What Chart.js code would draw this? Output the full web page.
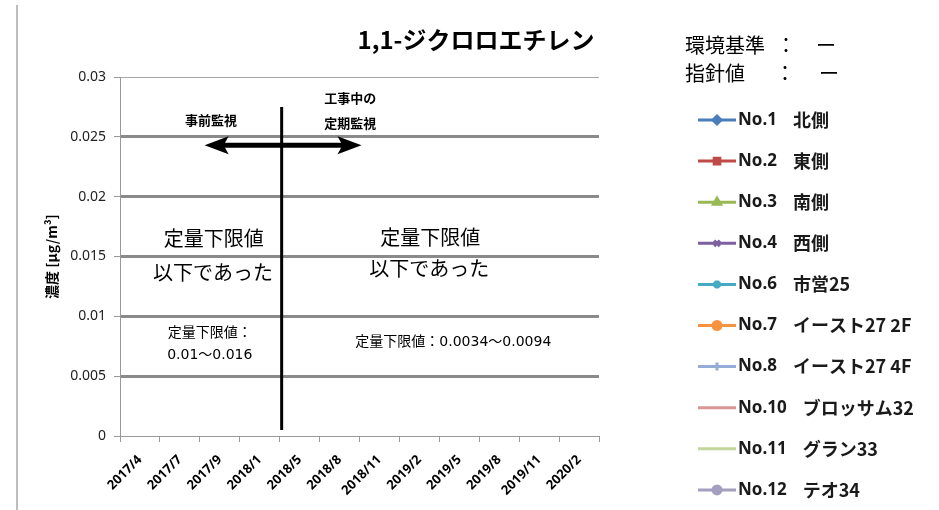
<!DOCTYPE html>
<html>
<head>
<meta charset="utf-8">
<script src="https://cdn.jsdelivr.net/npm/chart.js@4"></script>
<style>
  html, body { margin: 0; padding: 0; background: #fff; }
  #wrap { width: 939px; height: 510px; }
</style>
</head>
<body>
<div id="wrap"><canvas id="chart" width="939" height="510"></canvas></div>
<script>
// sampling dates (x categories)
const dates = ['2017/4', '2017/7', '2017/9', '2018/1', '2018/5', '2018/8', '2018/11', '2019/2', '2019/5', '2019/8', '2019/11', '2020/2'];

// monitoring stations
const stationIds = ['No.1', 'No.2', 'No.3', 'No.4', 'No.6', 'No.7', 'No.8', 'No.10', 'No.11', 'No.12'];
const stationNames = ['北側', '東側', '南側', '西側', '市営25', 'イースト27 2F', 'イースト27 4F', 'ブロッサム32', 'グラン33', 'テオ34'];
const stationColors = ['#4a7ebb', '#be4b48', '#98b954', '#7d60a0', '#46aac5', '#f69240', '#95abd8', '#d99694', '#c3d69b', '#a49fbf'];
const stationMarkers = ['rectRot', 'rect', 'triangle', 'crossRot', 'star', 'circle', 'cross', false, false, 'circle'];

// every result was below the quantification limit, so no values are plotted
const belowLimit = [null, null, null, null, null, null, null, null, null, null, null, null];

const yMin = 0;
const yMax = 0.03;
const yStep = 0.005;

const JP = '"Noto Sans CJK JP"';

const decorations = {
    id: 'decorations',
    afterDraw(chart) {
        const ctx = chart.ctx;
        const x = chart.scales.x;
        const y = chart.scales.y;
        const px = i => x.getPixelForValue(i);
        const py = v => y.getPixelForValue(v);

        ctx.save();

        // outer frame line on the left
        ctx.strokeStyle = '#bdbdbd';
        ctx.lineWidth = 2;
        ctx.beginPath();
        ctx.moveTo(17, 5);
        ctx.lineTo(17, 510);
        ctx.stroke();

        // title
        ctx.fillStyle = '#000';
        ctx.textAlign = 'center';
        ctx.textBaseline = 'middle';
        ctx.font = 'bold 24px ' + JP;
        ctx.fillText('1,1-ジクロロエチレン', 476, 40);

        // standard / guideline notes
        ctx.font = '20px ' + JP;
        ctx.textAlign = 'left';
        ctx.fillText('環境基準', 685, 45);
        ctx.fillText('：', 776, 45);
        ctx.fillText('ー', 816, 45);
        ctx.fillText('指針値', 685, 73);
        ctx.fillText('：', 775, 73);
        ctx.fillText('ー', 819, 73);

        // boundary between pre-monitoring and monitoring during construction
        ctx.strokeStyle = '#000';
        ctx.lineWidth = 3;
        ctx.beginPath();
        ctx.moveTo(px(3.55), py(0.0275));
        ctx.lineTo(px(3.55), py(0.0005));
        ctx.stroke();

        // double arrow
        const ay = py(0.0243);
        const ax1 = px(1.62);
        const ax2 = px(5.55);
        ctx.lineWidth = 5;
        ctx.beginPath();
        ctx.moveTo(ax1 + 15, ay);
        ctx.lineTo(ax2 - 15, ay);
        ctx.stroke();
        ctx.fillStyle = '#000';
        ctx.beginPath();
        ctx.moveTo(ax1, ay);
        ctx.lineTo(ax1 + 24, ay - 9);
        ctx.lineTo(ax1 + 19, ay);
        ctx.lineTo(ax1 + 24, ay + 9);
        ctx.closePath();
        ctx.fill();
        ctx.beginPath();
        ctx.moveTo(ax2, ay);
        ctx.lineTo(ax2 - 24, ay - 9);
        ctx.lineTo(ax2 - 19, ay);
        ctx.lineTo(ax2 - 24, ay + 9);
        ctx.closePath();
        ctx.fill();

        // period labels
        ctx.font = 'bold 13px ' + JP;
        ctx.textAlign = 'center';
        ctx.fillText('事前監視', px(1.78), py(0.0264));
        ctx.textAlign = 'left';
        ctx.fillText('工事中の', px(4.62), py(0.02824));
        ctx.fillText('定期監視', px(4.62), py(0.02616));

        // result notes
        ctx.textAlign = 'center';
        ctx.font = '20px ' + JP;
        ctx.fillText('定量下限値', px(1.85), py(0.01655));
        ctx.fillText('以下であった', px(1.83), py(0.0137));
        ctx.fillText('定量下限値', px(7.27), py(0.01663));
        ctx.fillText('以下であった', px(7.25), py(0.01404));

        ctx.font = '14px "DejaVu Sans", ' + JP;
        ctx.fillText('定量下限値：', px(1.75), py(0.0086));
        ctx.fillText('0.01～0.016', px(1.75), py(0.00677));
        ctx.fillText('定量下限値：0.0034～0.0094', px(7.85), py(0.00786));

        // legend
        chart.data.datasets.forEach((ds, i) => {
            const ly = 120 + i * 41.1;
            ctx.strokeStyle = ds.borderColor;
            ctx.lineWidth = 3;
            ctx.beginPath();
            ctx.moveTo(698, ly);
            ctx.lineTo(736, ly);
            ctx.stroke();
            if (ds.pointStyle) {
                ctx.fillStyle = ds.borderColor;
                ctx.strokeStyle = ds.borderColor;
                Chart.helpers.drawPoint(ctx, { pointStyle: ds.pointStyle, radius: 4, borderWidth: 2, rotation: 0 }, 717, ly);
            }
            ctx.fillStyle = '#1a1a1a';
            ctx.textAlign = 'left';
            ctx.font = 'bold 17px "Noto Sans"';
            ctx.fillText(stationIds[i], 738, ly);
            const w = ctx.measureText(stationIds[i]).width;
            ctx.font = 'bold 18px ' + JP;
            ctx.fillText(stationNames[i], 738 + w + 16, ly);
        });

        ctx.restore();
    }
};

const ctx = document.getElementById('chart').getContext('2d');
new Chart(ctx, {
    type: 'line',
    data: {
        labels: dates,
        datasets: stationIds.map((id, i) => ({
            label: id + '  ' + stationNames[i],
            data: belowLimit,
            borderColor: stationColors[i],
            backgroundColor: stationColors[i],
            pointStyle: stationMarkers[i],
            borderWidth: 3,
            pointRadius: 4
        }))
    },
    options: {
        responsive: false,
        animation: false,
        layout: { padding: { left: 0, right: 340, top: 77, bottom: 0 } },
        plugins: {
            legend: { display: false },
            tooltip: { enabled: false }
        },
        scales: {
            x: {
                offset: true,
                grid: { drawOnChartArea: false, offset: true, tickLength: 6, color: '#999' },
                border: { color: '#999' },
                ticks: {
                    autoSkip: false,
                    maxRotation: 45,
                    minRotation: 45,
                    padding: 10,
                    color: '#000',
                    font: { size: 13, weight: 'bold', family: '"Noto Sans"' }
                },
                afterFit: s => { s.height = 74; }
            },
            y: {
                min: yMin,
                max: yMax,
                ticks: {
                    stepSize: yStep,
                    padding: 8,
                    color: '#222',
                    font: { size: 14, family: '"Noto Sans"' },
                    callback: v => String(parseFloat(Number(v).toFixed(4)))
                },
                grid: {
                    color: c => c.tick.value === 0 ? 'rgba(0,0,0,0)' : (c.tick.value > 0.0299 ? '#a6a6a6' : '#8a8a8a'),
                    lineWidth: c => c.tick.value > 0.0299 ? 1 : 3,
                    tickLength: 6,
                    tickColor: '#999',
                    tickWidth: 1
                },
                border: { color: '#999' },
                title: {
                    display: true,
                    text: '濃度 [μg/m³]',
                    color: '#000',
                    font: { size: 14, weight: 'bold', family: JP },
                    padding: { top: 43, bottom: 0 }
                },
                afterFit: s => { s.width = 120; }
            }
        }
    },
    plugins: [decorations]
});
</script>
</body>
</html>
